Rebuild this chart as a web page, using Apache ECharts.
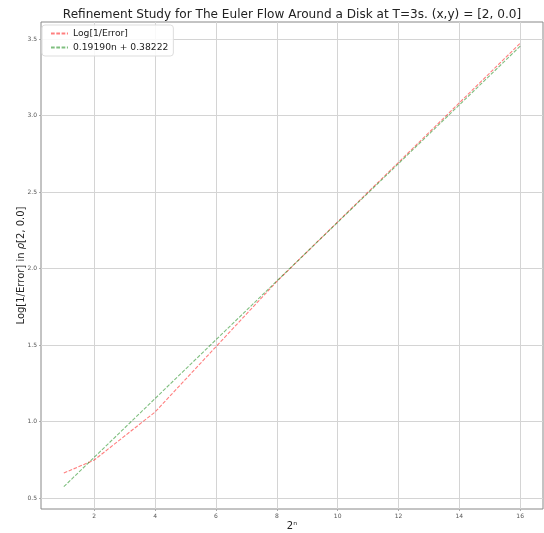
<!DOCTYPE html>
<html>
<head>
<meta charset="utf-8">
<script src="https://cdn.jsdelivr.net/npm/echarts@6/dist/echarts.min.js"></script>
<style>
  html, body { margin: 0; padding: 0; background: #fff; }
  #chart { width: 544px; height: 533px; }
</style>
</head>
<body>
<div id="chart"></div>
<script>
// refinement levels and measured log(1/error)
const levels = [1, 2, 4, 8, 16];
const logInvError = [0.663, 0.748, 1.062, 1.915, 3.472];
// least-squares fit line, read at the same levels
const fitValues = [0.574, 0.766, 1.150, 1.918, 3.453];
const xTicks = [2, 4, 6, 8, 10, 12, 14, 16];
const yTicks = [0.5, 1.0, 1.5, 2.0, 2.5, 3.0, 3.5];

const font = "DejaVu Sans";
const chart = echarts.init(document.getElementById("chart"));

chart.setOption({
  animation: false,
  textStyle: { fontFamily: font },
  title: {
    text: "Refinement Study for The Euler Flow Around a Disk at T=3s. (x,y) = [2, 0.0]",
    left: 287, top: 4, textAlign: "center",
    textStyle: { fontFamily: font, fontSize: 12.1, fontWeight: "normal", color: "#222" },
  },
  grid: {
    left: 41, right: 1, top: 22, bottom: 24,
    outerBoundsMode: "none", containLabel: false,
    show: true, borderColor: "#888", borderWidth: 1,
  },
  legend: {
    orient: "vertical", left: 42, top: 25,
    icon: "inherit",
    itemStyle: { opacity: 0 },
    itemWidth: 17, itemHeight: 8, itemGap: 5,
    padding: [4, 5, 4, 8],
    borderColor: "#ddd", borderWidth: 1, borderRadius: 3,
    backgroundColor: "rgba(255,255,255,0.85)",
    textStyle: { fontFamily: font, fontSize: 9.2, color: "#222" },
    data: ["Log[1/Error]", "0.19190n + 0.38222"],
  },
  xAxis: {
    type: "value", min: 0.25, max: 16.75,
    name: "2ⁿ", nameLocation: "middle", nameGap: 12, nameMoveOverlap: false,
    nameTextStyle: { fontFamily: font, fontSize: 10, color: "#222" },
    axisLine: { show: false },
    axisTick: { show: true, length: 2, lineStyle: { color: "#aaa" }, customValues: xTicks },
    axisLabel: { fontSize: 6, color: "#555", margin: 4, customValues: xTicks },
    splitLine: { show: true, lineStyle: { color: "#d4d4d4", width: 1 } },
  },
  yAxis: {
    type: "value", min: 0.428, max: 3.611,
    name: "Log[1/Error] in {i|ρ}[2, 0.0]", nameLocation: "middle", nameGap: 15, nameMoveOverlap: false,
    nameTextStyle: {
      fontFamily: font, fontSize: 10, color: "#222",
      rich: { i: { fontFamily: font, fontSize: 10, fontStyle: "italic", color: "#222" } },
    },
    axisLine: { show: false },
    axisTick: { show: true, length: 2, lineStyle: { color: "#aaa" }, customValues: yTicks },
    axisLabel: { fontSize: 6, color: "#555", margin: 4, customValues: yTicks, formatter: v => v.toFixed(1) },
    splitLine: { show: true, lineStyle: { color: "#d4d4d4", width: 1 } },
  },
  series: [
    {
      name: "Log[1/Error]", type: "line", showSymbol: false, symbol: "none",
      data: levels.map((x, i) => [x, logInvError[i]]),
      lineStyle: { color: "rgba(255,0,0,0.5)", width: 1.1, type: [3.7, 1.6] },
      itemStyle: { color: "rgba(255,0,0,0.5)" },
    },
    {
      name: "0.19190n + 0.38222", type: "line", showSymbol: false, symbol: "none",
      data: levels.map((x, i) => [x, fitValues[i]]),
      lineStyle: { color: "rgba(0,128,0,0.5)", width: 1.1, type: [3.7, 1.6] },
      itemStyle: { color: "rgba(0,128,0,0.5)" },
    },
  ],
});
</script>
</body>
</html>
